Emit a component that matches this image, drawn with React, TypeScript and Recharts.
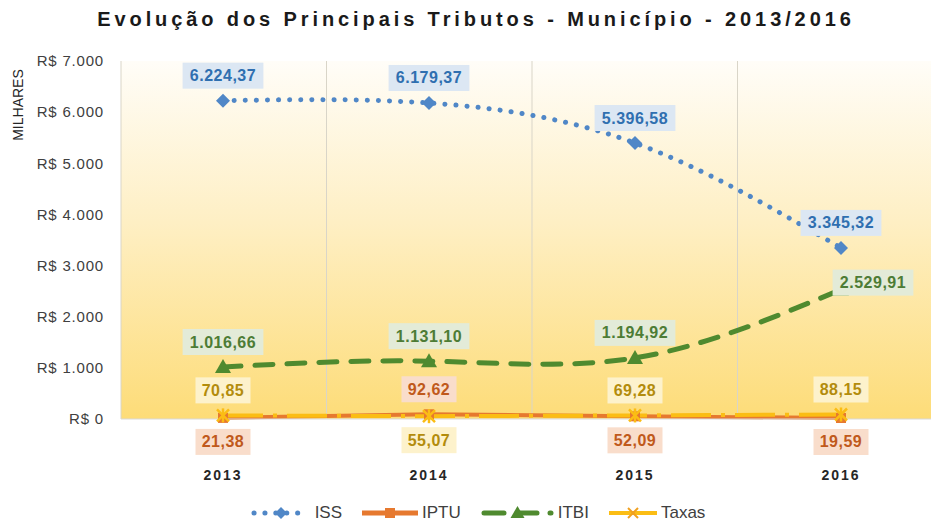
import { LineChart, Line, XAxis, YAxis, CartesianGrid, Legend, LabelList } from 'recharts';

const YEARS = ['2013', '2014', '2015', '2016'];
const ISS = [6224.37, 6179.37, 5396.58, 3345.32];
const IPTU = [21.38, 92.62, 52.09, 19.59];
const ITBI = [1016.66, 1131.1, 1194.92, 2529.91];
const TAXAS = [70.85, 55.07, 69.28, 88.15];
const Y_TICKS = [0, 1000, 2000, 3000, 4000, 5000, 6000, 7000];

// where each data label sits relative to its point
const ISS_POS = ['above', 'above', 'above', 'above'];
const IPTU_POS = ['below', 'above', 'below', 'below'];
const ITBI_POS = ['above', 'above', 'above', 'right'];
const TAXAS_POS = ['above', 'below', 'above', 'above'];

const data = YEARS.map((year, i) => ({
  year,
  ISS: ISS[i],
  IPTU: IPTU[i],
  ITBI: ITBI[i],
  Taxas: TAXAS[i],
}));

const COLORS = {
  ISS: '#5087c7',
  IPTU: '#e6792f',
  ITBI: '#4f8a2f',
  Taxas: '#fbbd14',
};

const LABEL_STYLE = {
  ISS: { text: '#2f6fb0', bg: '#dce7f3' },
  IPTU: { text: '#c0591b', bg: '#f9ddcb' },
  ITBI: { text: '#4d7c35', bg: '#e3ebd8' },
  Taxas: { text: '#b38c0c', bg: '#fdf2cc' },
};

const FONT = 'Arial, "Liberation Sans", sans-serif';

function fmt(v: number) {
  const [int, dec] = v.toFixed(2).split('.');
  return int.replace(/\B(?=(\d{3})+(?!\d))/g, '.') + ',' + dec;
}

function makeLabel(key: keyof typeof LABEL_STYLE, positions: string[]) {
  return (props: any) => {
    const { x, y, value, index } = props;
    if (x == null || y == null) return null;
    const text = fmt(Number(value));
    const w = text.length * 8.6 + 12;
    const h = 26;
    const pos = positions[index];
    let cx = x;
    let cy = y - 25;
    if (pos === 'below') cy = y + 24;
    if (pos === 'right') {
      cx = x + 32;
      cy = y - 7;
    }
    const st = LABEL_STYLE[key];
    return (
      <g key={`${key}-lbl-${index}`}>
        <rect x={cx - w / 2} y={cy - h / 2} width={w} height={h} fill={st.bg} />
        <text
          x={cx}
          y={cy}
          textAnchor="middle"
          dominantBaseline="central"
          fill={st.text}
          fontFamily={FONT}
          fontWeight="bold"
          fontSize={16}
          letterSpacing={0.5}
        >
          {text}
        </text>
      </g>
    );
  };
}

const DiamondDot = (p: any) => (
  <path
    key={`d-${p.index}`}
    d={`M${p.cx},${p.cy - 7}L${p.cx + 7},${p.cy}L${p.cx},${p.cy + 7}L${p.cx - 7},${p.cy}Z`}
    fill={COLORS.ISS}
  />
);

const SquareDot = (p: any) => (
  <rect key={`s-${p.index}`} x={p.cx - 5} y={p.cy - 5} width={10} height={10} fill={COLORS.IPTU} />
);

const TriangleDot = (p: any) => (
  <path
    key={`t-${p.index}`}
    d={`M${p.cx},${p.cy - 8}L${p.cx + 8},${p.cy + 6}L${p.cx - 8},${p.cy + 6}Z`}
    fill={COLORS.ITBI}
  />
);

const StarDot = (p: any) => (
  <g key={`x-${p.index}`} stroke={COLORS.Taxas} strokeWidth={2.5}>
    <line x1={p.cx - 6} y1={p.cy - 6} x2={p.cx + 6} y2={p.cy + 6} />
    <line x1={p.cx - 6} y1={p.cy + 6} x2={p.cx + 6} y2={p.cy - 6} />
    <line x1={p.cx} y1={p.cy - 7} x2={p.cx} y2={p.cy + 7} />
  </g>
);

const SWATCH_W: Record<string, number> = { ISS: 60, IPTU: 56, ITBI: 73, Taxas: 48 };

function LegendSwatch({ name }: { name: string }) {
  const c = (COLORS as any)[name];
  const w = SWATCH_W[name];
  const m = w / 2;
  let line = null;
  let marker = null;
  if (name === 'ISS') {
    line = <line x1={3} y1={8} x2={w - 3} y2={8} stroke={c} strokeWidth={5} strokeDasharray="0.1 10.8" strokeLinecap="round" />;
    marker = <path d={`M${m},2L${m + 6},8L${m},14L${m - 6},8Z`} fill={c} />;
  } else if (name === 'IPTU') {
    line = <line x1={0} y1={8} x2={w} y2={8} stroke={c} strokeWidth={5} />;
    marker = <rect x={m - 5} y={3} width={10} height={10} fill={c} />;
  } else if (name === 'ITBI') {
    line = <line x1={3} y1={8} x2={w - 3} y2={8} stroke={c} strokeWidth={5} strokeDasharray="20 13" strokeLinecap="round" />;
    marker = <path d={`M${m},1L${m + 7},13L${m - 7},13Z`} fill={c} />;
  } else {
    line = <line x1={0} y1={8} x2={w} y2={8} stroke={c} strokeWidth={4} />;
    marker = (
      <g stroke="#f0a020" strokeWidth={2}>
        <line x1={m - 5} y1={3} x2={m + 5} y2={13} />
        <line x1={m - 5} y1={13} x2={m + 5} y2={3} />
      </g>
    );
  }
  return (
    <svg width={w} height={16} style={{ marginRight: 4 }}>
      {line}
      {marker}
    </svg>
  );
}

const renderLegend = () => (
  <div
    style={{
      display: 'flex',
      justifyContent: 'center',
      alignItems: 'center',
      height: 24,
      fontFamily: FONT,
      fontSize: 17,
      color: '#404040',
    }}
  >
    {['ISS', 'IPTU', 'ITBI', 'Taxas'].map((n, i) => (
      <div key={n} style={{ display: 'flex', alignItems: 'center', marginLeft: i === 0 ? 0 : 20 }}>
        <LegendSwatch name={n} />
        <span>{n}</span>
      </div>
    ))}
  </div>
);

export default function App() {
  return (
    <div
      style={{
        position: 'absolute',
        left: 0,
        top: 0,
        width: 931,
        height: 523,
        overflow: 'hidden',
        background: '#ffffff',
      }}
    >
      <div
        style={{
          position: 'absolute',
          left: 0,
          width: 952,
          top: 8,
          textAlign: 'center',
          fontFamily: FONT,
          fontWeight: 'bold',
          fontSize: 20,
          letterSpacing: 3.9,
          color: '#1a1a1a',
        }}
      >
        Evolução dos Principais Tributos - Município - 2013/2016
      </div>
      <div
        style={{
          position: 'absolute',
          left: 18,
          top: 105,
          transform: 'translate(-50%, -50%) rotate(-90deg)',
          fontFamily: FONT,
          fontSize: 14,
          color: '#262626',
          whiteSpace: 'nowrap',
        }}
      >
        MILHARES
      </div>
      <LineChart
        width={960}
        height={523}
        data={data}
        margin={{ top: 61, right: 17, left: 0, bottom: 20 }}
      >
        <defs>
          <linearGradient id="bgGrad" x1="0" y1="0" x2="0" y2="1">
            <stop offset="0%" stopColor="#fffdf8" />
            <stop offset="45%" stopColor="#feefc4" />
            <stop offset="100%" stopColor="#fddc78" />
          </linearGradient>
        </defs>
        <CartesianGrid
          horizontal={false}
          stroke="#d9d5c8"
          fill="url(#bgGrad)"
          fillOpacity={1}
          verticalCoordinatesGenerator={({ offset }: any) =>
            [0, 1, 2, 3, 4].map((i) => offset.left + (i * offset.width) / 4)
          }
        />
        <XAxis
          dataKey="year"
          height={60}
          padding={{ left: 102, right: 102 }}
          axisLine={{ stroke: '#d9d9d9' }}
          tickLine={false}
          tickMargin={45}
          tick={{ fontFamily: FONT, fontSize: 14, fontWeight: 'bold', fill: '#262626', letterSpacing: 2 }}
        />
        <YAxis
          width={121}
          domain={[0, 7000]}
          ticks={Y_TICKS}
          axisLine={false}
          tickLine={false}
          tickMargin={11}
          tickFormatter={(v: number) => 'R$ ' + (v === 0 ? '0' : fmt(v).split(',')[0])}
          tick={{ fontFamily: FONT, fontSize: 15, fill: '#404040', letterSpacing: 0.8 }}
        />
        <Legend
          verticalAlign="bottom"
          content={renderLegend}
          wrapperStyle={{ left: 0, width: 956, bottom: -2, height: 24 }}
        />
        <Line
          type="linear"
          dataKey="IPTU"
          stroke={COLORS.IPTU}
          strokeWidth={4}
          dot={SquareDot}
          isAnimationActive={false}
        >
          <LabelList dataKey="IPTU" content={makeLabel('IPTU', IPTU_POS)} />
        </Line>
        <Line
          type="linear"
          dataKey="Taxas"
          stroke={COLORS.Taxas}
          strokeWidth={4}
          strokeDasharray="40 10 4 10"
          dot={StarDot}
          isAnimationActive={false}
        >
          <LabelList dataKey="Taxas" content={makeLabel('Taxas', TAXAS_POS)} />
        </Line>
        <Line
          type="natural"
          dataKey="ITBI"
          stroke={COLORS.ITBI}
          strokeWidth={5}
          strokeDasharray="18 14"
          strokeLinecap="round"
          dot={TriangleDot}
          isAnimationActive={false}
        >
          <LabelList dataKey="ITBI" content={makeLabel('ITBI', ITBI_POS)} />
        </Line>
        <Line
          type="natural"
          dataKey="ISS"
          stroke={COLORS.ISS}
          strokeWidth={5}
          strokeDasharray="0.1 11"
          strokeLinecap="round"
          dot={DiamondDot}
          isAnimationActive={false}
        >
          <LabelList dataKey="ISS" content={makeLabel('ISS', ISS_POS)} />
        </Line>
      </LineChart>
    </div>
  );
}
